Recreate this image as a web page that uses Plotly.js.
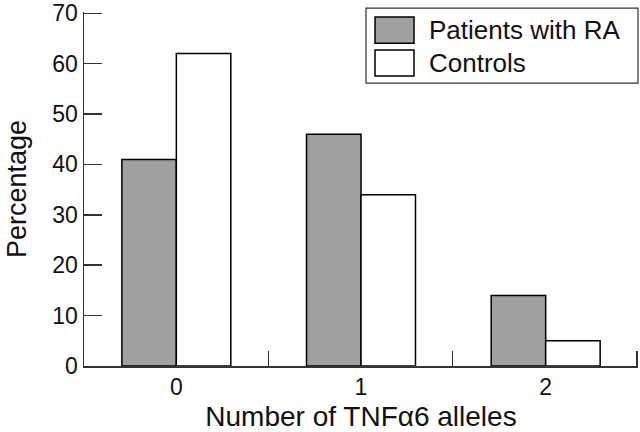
<!DOCTYPE html>
<html>
<head>
<meta charset="utf-8">
<script src="https://cdn.plot.ly/plotly-3.0.1.min.js"></script>
<style>
  body { margin: 0; background: #fff; }
  #chart { width: 640px; height: 432px; }
</style>
</head>
<body>
<div id="chart"></div>
<script>
"use strict";

// number of TNFa6 alleles
var alleles = [0, 1, 2];
var alleleLabels = ["0", "1", "2"];
// percentages
var patientsRA = [41, 46, 14];
var controls = [62, 34, 5];
// tick marks sit between the groups
var dividerTicks = [0.5, 1.5, 2.5];
var yTicks = [0, 10, 20, 30, 40, 50, 60, 70];

var seriesNames = ["Patients with RA", "Controls"];
var seriesColors = ["#a0a0a0", "#ffffff"];

var fontFamily = "Liberation Sans, Arial, sans-serif";

var traces = [];
traces.push({
    type: "bar",
    name: seriesNames[0],
    x: alleles,
    y: patientsRA,
    marker: { color: seriesColors[0], line: { color: "#000", width: 1.5 } }
});
traces.push({
    type: "bar",
    name: seriesNames[1],
    x: alleles,
    y: controls,
    marker: { color: seriesColors[1], line: { color: "#000", width: 1.5 } }
});
// invisible helper so the second x axis (divider ticks) gets drawn
traces.push({
    type: "scatter",
    x: dividerTicks,
    y: [0, 0, 0],
    xaxis: "x2",
    mode: "none",
    showlegend: false,
    hoverinfo: "skip"
});

// hand made legend, the built-in one has tiny swatches
function LegendParts() {
    var shapes = [];
    var annotations = [];
    shapes.push({
        type: "rect", xref: "paper", yref: "paper",
        x0: 0.509, x1: 1.0, y0: 0.799, y1: 1.011,
        line: { color: "#333", width: 1.2 }, fillcolor: "#fff", layer: "above"
    });
    var rows = [[0.986, 0.912, 0.949], [0.893, 0.819, 0.856]];
    for (var i = 0; i < seriesNames.length; i++) {
        shapes.push({
            type: "rect", xref: "paper", yref: "paper",
            x0: 0.5253, x1: 0.5957, y0: rows[i][1], y1: rows[i][0],
            line: { color: "#000", width: 1.5 }, fillcolor: seriesColors[i], layer: "above"
        });
        annotations.push({
            xref: "paper", yref: "paper",
            x: 0.619, y: rows[i][2],
            xanchor: "left", yanchor: "middle",
            text: seriesNames[i], showarrow: false,
            font: { size: 26, color: "#111" }
        });
    }
    return { shapes: shapes, annotations: annotations };
}

var legendParts = LegendParts();

var layout = {
    width: 640,
    height: 432,
    margin: { l: 84, r: 2, t: 12, b: 66 },
    paper_bgcolor: "#fff",
    plot_bgcolor: "#fff",
    font: { family: fontFamily, size: 23, color: "#111" },
    barmode: "group",
    bargap: 0.41,
    bargroupgap: 0,
    showlegend: false,
    shapes: legendParts.shapes,
    annotations: legendParts.annotations,
    xaxis: {
        range: [-0.5, 2.5],
        tickvals: alleles,
        ticktext: alleleLabels,
        ticks: "",
        showgrid: false,
        zeroline: false,
        showline: true,
        linecolor: "#333",
        linewidth: 1.5,
        tickfont: { size: 23 },
        title: { text: "Number of TNF\u03b16 alleles", font: { size: 28 }, standoff: 10 }
    },
    xaxis2: {
        overlaying: "x",
        anchor: "y",
        side: "bottom",
        range: [-0.5, 2.506],
        tickvals: dividerTicks,
        showticklabels: false,
        ticks: "inside",
        ticklen: 15,
        tickwidth: 1.5,
        tickcolor: "#333",
        showgrid: false,
        zeroline: false,
        showline: false
    },
    yaxis: {
        range: [0, 70.25],
        tickvals: yTicks,
        ticks: "inside",
        ticklen: 18,
        tickwidth: 1.5,
        tickcolor: "#333",
        showgrid: false,
        zeroline: false,
        showline: true,
        linecolor: "#333",
        linewidth: 1.5,
        tickfont: { size: 23 },
        title: { text: "Percentage", font: { size: 27 }, standoff: 18 }
    }
};

Plotly.newPlot("chart", traces, layout, { displayModeBar: false, staticPlot: true });
</script>
</body>
</html>
